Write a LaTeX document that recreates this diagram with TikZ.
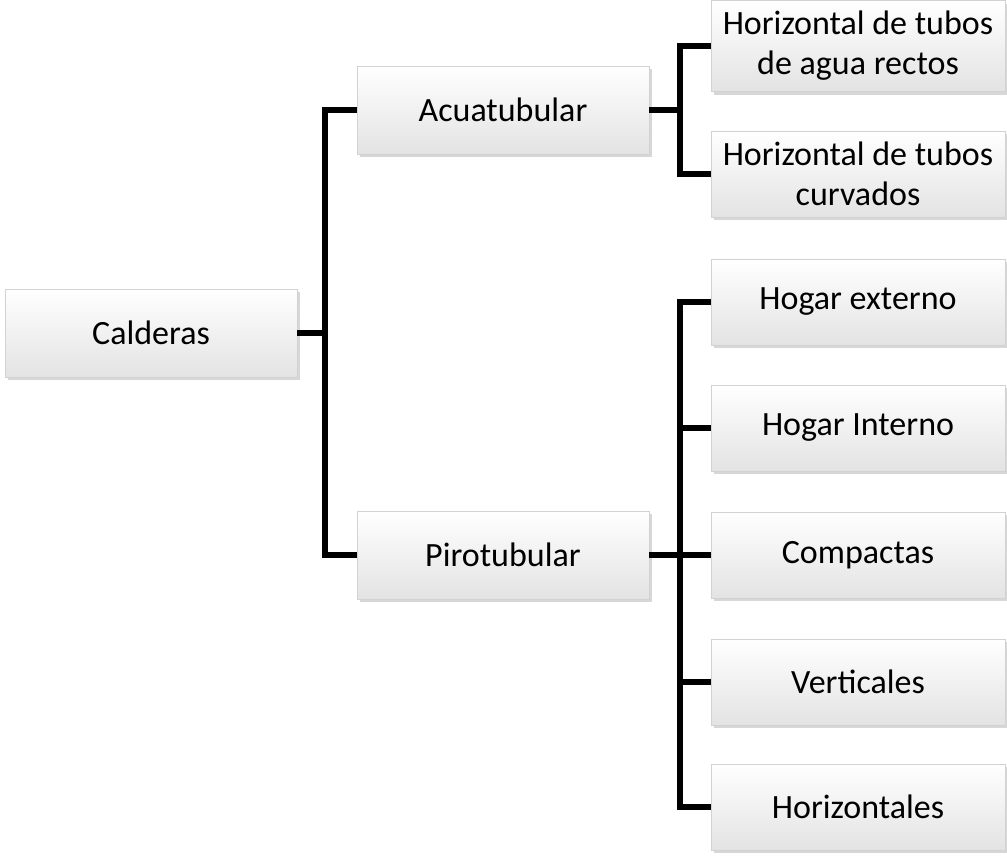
\documentclass[tikz,border=0pt]{standalone}
\usepackage{fontspec}
\setmainfont{Carlito}
\usetikzlibrary{shadows}
\begin{document}
\begin{tikzpicture}[x=1pt,y=-1pt,
  box/.style={draw=gray!35, line width=0.8pt, top color=white, bottom color=gray!22,
    minimum width=292pt, minimum height=88pt, align=center, inner sep=1pt,
    font=\fontsize{34}{40}\selectfont,
    drop shadow={shadow xshift=3pt, shadow yshift=-3pt, opacity=0.45, fill=gray!70}},
  wide/.style={box, minimum width=294pt, minimum height=86pt},
  conn/.style={line width=5.5pt, line join=miter}]
\useasboundingbox (0,0) rectangle (1007,855);
\node[box] (cal) at (151,333) {Calderas};
\node[box] (acu) at (503,110) {Acuatubular};
\node[box] (pir) at (503,555) {Pirotubular};
\node[wide, minimum height=91pt] (h1) at (858,46) {Horizontal de tubos\\de agua rectos};
\node[wide] (h2) at (858,174) {Horizontal de tubos\\curvados};
\node[wide] (he) at (858,302) {Hogar externo};
\node[wide] (hi) at (858,428) {Hogar Interno};
\node[wide] (co) at (858,555) {Compactas};
\node[wide] (ve) at (858,682) {Verticales};
\node[wide] (ho) at (858,807) {Horizontales};
\draw[conn] (cal.east) -- (325,333);
\draw[conn] (acu.west) -- (325,110) -- (325,555) -- (pir.west);
\draw[conn] (acu.east) -- (680,110);
\draw[conn] (h1.west) -- (680,46) -- (680,174) -- (h2.west);
\draw[conn] (pir.east) -- (680,555);
\draw[conn] (he.west) -- (680,302) -- (680,807) -- (ho.west);
\draw[conn] (hi.west) -- (680,428);
\draw[conn] (co.west) -- (680,555);
\draw[conn] (ve.west) -- (680,682);
\end{tikzpicture}
\end{document}
